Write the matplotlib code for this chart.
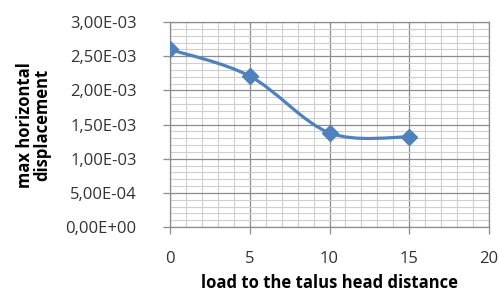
import numpy as np
import matplotlib
matplotlib.use("Agg")
import matplotlib.pyplot as plt
from matplotlib.path import Path
from matplotlib.patches import PathPatch
from matplotlib.ticker import MultipleLocator, FuncFormatter

# data
distance = [0, 5, 10, 15]
displacement = [2.60e-3, 2.21e-3, 1.38e-3, 1.32e-3]

BLUE = "#4F81BD"
plt.rcParams["font.family"] = ["Open Sans", "DejaVu Sans"]


def smooth_path(xs, ys):
    """Excel-like smoothed line: Catmull-Rom segments as cubic Beziers."""
    pts = np.column_stack([xs, ys]).astype(float)
    ext = np.vstack([pts[0], pts, pts[-1]])
    verts = [pts[0]]
    codes = [Path.MOVETO]
    for i in range(1, len(ext) - 2):
        p0, p1, p2, p3 = ext[i - 1], ext[i], ext[i + 1], ext[i + 2]
        verts += [p1 + (p2 - p0) / 6, p2 - (p3 - p1) / 6, p2]
        codes += [Path.CURVE4] * 3
    return Path(verts, codes)


fig = plt.figure(figsize=(5, 2.95), dpi=100)
ax = fig.add_axes([0.34, 0.23, 0.638, 0.695])

ax.add_patch(PathPatch(smooth_path(distance, displacement), fill=False,
                       edgecolor=BLUE, lw=2.3, zorder=3))
ax.plot(distance, displacement, ls="none", marker="D", ms=8.5,
        color=BLUE, zorder=4)

ax.set_xlim(0, 20)
ax.set_ylim(0, 3e-3)
ax.xaxis.set_major_locator(MultipleLocator(5))
ax.xaxis.set_minor_locator(MultipleLocator(1))
ax.yaxis.set_major_locator(MultipleLocator(5e-4))
ax.yaxis.set_minor_locator(MultipleLocator(1e-4))
ax.yaxis.set_major_formatter(
    FuncFormatter(lambda v, _: f"{v:.2E}".replace(".", ",")))

ax.grid(which="major", color="#8c8c8c", lw=0.9)
ax.grid(which="minor", color="#cfcfcf", lw=0.8)
ax.set_axisbelow(True)
for s in ax.spines.values():
    s.set_color("#8c8c8c")
    s.set_linewidth(0.9)

ax.tick_params(which="major", length=5, width=0.9, color="#8c8c8c",
               labelsize=12, labelcolor="#333333")
ax.tick_params(axis="y", pad=19)
ax.tick_params(axis="x", pad=12)
ax.tick_params(which="minor", length=0)

ax.set_xlabel("load to the talus head distance", fontsize=12,
              fontweight="bold", labelpad=5)
ax.set_ylabel("max horizontal\ndisplacement", fontsize=12,
              fontweight="bold", labelpad=10, linespacing=1.0)

fig.savefig("out.png", dpi=100)
